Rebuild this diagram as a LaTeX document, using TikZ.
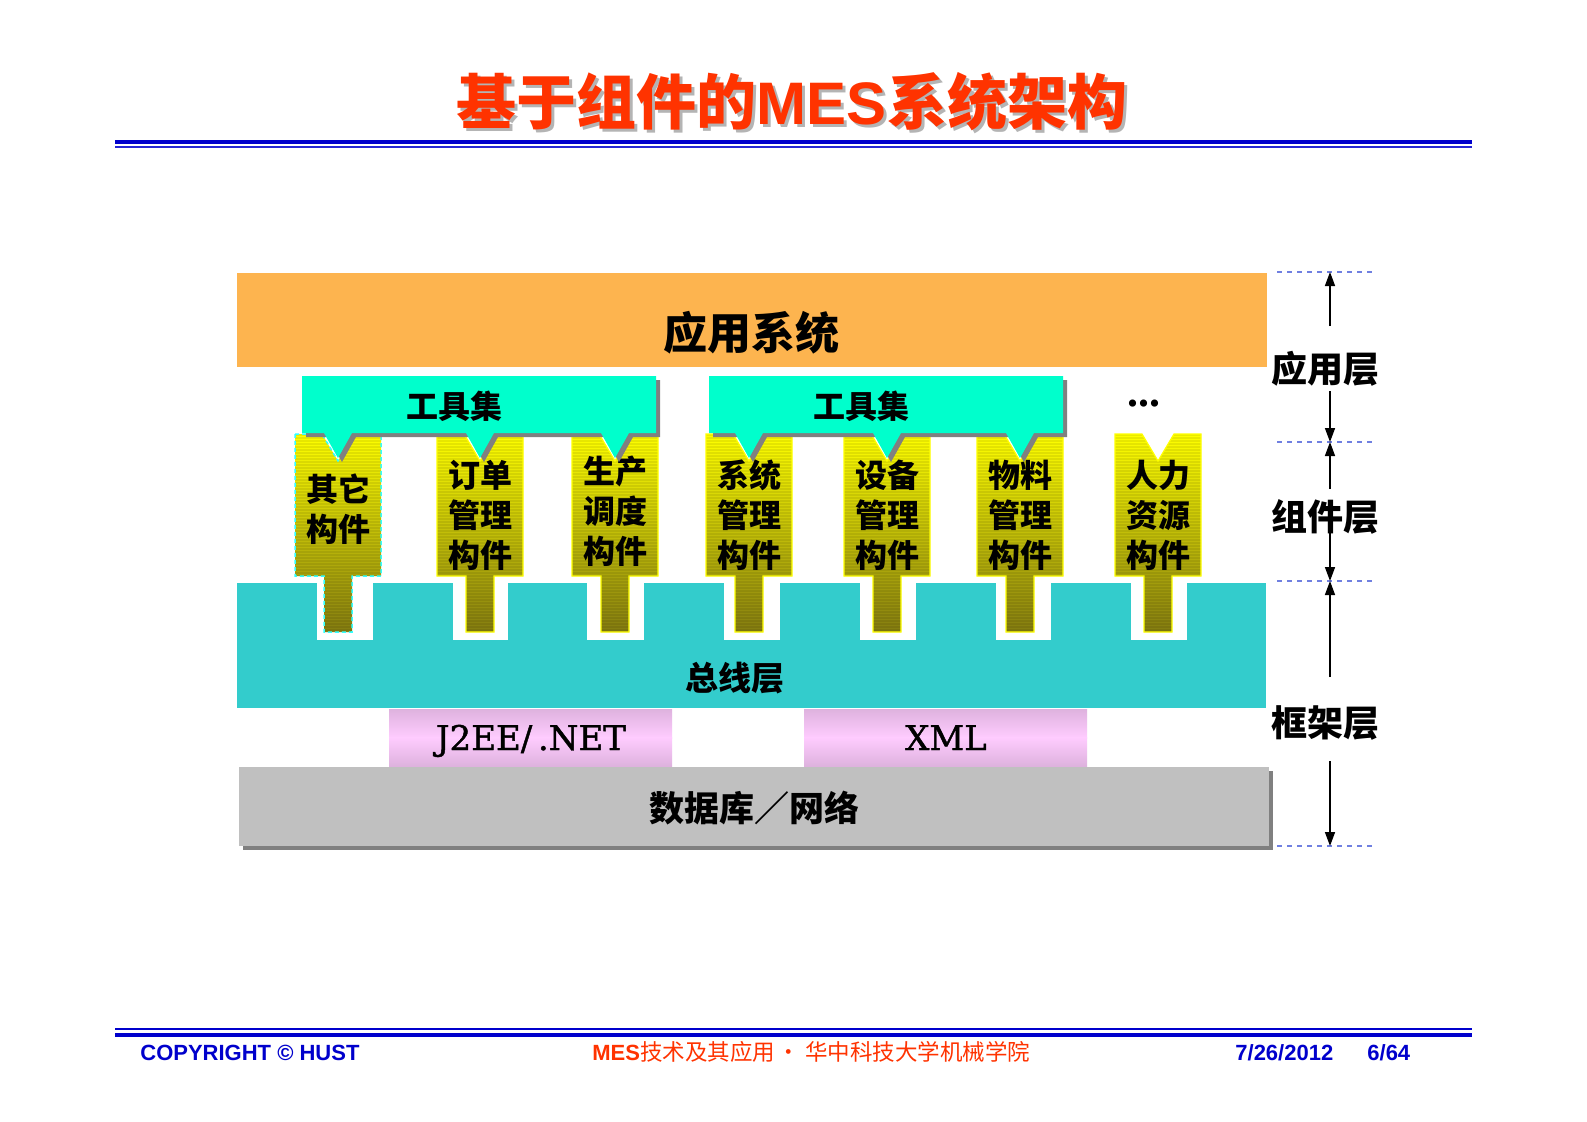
\documentclass[tikz,border=0pt]{standalone}
\usepackage{fontspec}
\setmainfont{Liberation Serif}
\newfontfamily\cjk{Noto Sans CJK SC}
\newfontfamily\arialf{Liberation Sans}
\newfontfamily\wideserif[FakeBold=1.2]{DejaVu Serif}
\usetikzlibrary{arrows.meta}
\definecolor{apporange}{HTML}{FDB44F}
\definecolor{busteal}{HTML}{33CCCC}
\definecolor{toolcyan}{HTML}{00FFCC}
\definecolor{shadowgray}{HTML}{808080}
\definecolor{dbgray}{HTML}{C0C0C0}
\definecolor{pinklight}{HTML}{FFCCFF}
\definecolor{pinkdark}{HTML}{DEB2DE}
\definecolor{ytop}{HTML}{FFFF00}
\definecolor{ymid}{HTML}{C8C01C}
\definecolor{ybot}{HTML}{847C10}
\definecolor{yedge}{HTML}{FFFF00}
\definecolor{selcyan}{HTML}{33FFFF}
\definecolor{dashblue}{HTML}{7080E0}
\definecolor{lineblue}{HTML}{0000CC}
\definecolor{titlered}{HTML}{FF3300}
\definecolor{titleshadow}{HTML}{B4B4B4}
\begin{document}
\begin{tikzpicture}[x=0.5pt,y=-0.5pt,
  comptext/.style={font=\cjk\bfseries\fontsize{16pt}{20pt}\selectfont, align=center, inner sep=0pt},
  compedge/.style={draw=yedge, line width=0.6pt},
  compsel/.style={draw=selcyan, line width=0.75pt, dash pattern=on 2pt off 1.5pt},
  stripe/.style={draw=black, opacity=0.08, line width=0.6pt},
  boxtext/.style={font=\cjk\bfseries\fontsize{16pt}{16pt}\selectfont, inner sep=0pt},
  layerlab/.style={font=\cjk\bfseries\fontsize{18pt}{18pt}\selectfont, inner sep=0pt},
  dashline/.style={draw=dashblue, line width=0.75pt, dash pattern=on 2.5pt off 2.5pt},
  arr/.style={draw=black, line width=0.75pt, -{Triangle[length=7pt,width=5pt]}},
  serifbox/.style={font=\wideserif\fontsize{17pt}{17pt}\selectfont, inner sep=0pt, anchor=base},
  pinkup/.style={top color=pinkdark, bottom color=pinklight},
  pinkdown/.style={top color=pinklight, bottom color=pinkdark},
  footblue/.style={text=lineblue, font=\arialf\bfseries\fontsize{11pt}{11pt}\selectfont, anchor=base west, inner sep=0pt},
  footred/.style={text=titlered, font=\fontsize{11.25pt}{11.25pt}\selectfont, inner sep=0pt}
]
\useasboundingbox (0,0) rectangle (1587,1121);
\fill[white] (0,0) rectangle (1587,1121);

% ---------- title ----------
\node[text=titleshadow, font=\fontsize{30pt}{30pt}\selectfont, inner sep=0pt] (titleshd) at (795,105)
  {{\cjk\bfseries 基于组件的}{\arialf\bfseries MES}{\cjk\bfseries 系统架构}};
\node[text=titlered, font=\fontsize{30pt}{30pt}\selectfont, inner sep=0pt] (title) at (792,102)
  {{\cjk\bfseries 基于组件的}{\arialf\bfseries MES}{\cjk\bfseries 系统架构}};
\draw[lineblue, line width=2pt] (115,142) -- (1472,142);
\draw[lineblue!85!white, line width=0.75pt] (115,147) -- (1472,147);

% ---------- application layer ----------
\fill[apporange] (237,273) rectangle (1267,367);
\node[font=\cjk\bfseries\fontsize{22pt}{22pt}\selectfont, inner sep=0pt] (appsys) at (751,333) {应用系统};

% ---------- bus layer ----------
\fill[busteal] (237,583) rectangle (1266,708);
\foreach \gl/\gr in {317/373,453/508,587/644,724/780,860/916,996/1051,1131/1187}
  \fill[white] (\gl,583) rectangle (\gr,640);
\node[font=\cjk\bfseries\fontsize{16.5pt}{16.5pt}\selectfont, inner sep=0pt] (bus) at (735,678) {总线层};

% ---------- components ----------
\foreach \cx/\lab/\ty/\es/\nm in {
  338/{其它\\构件}/509/compsel/c1,
  480/{订单\\管理\\构件}/515/compedge/c2,
  615/{生产\\调度\\构件}/511/compedge/c3,
  749/{系统\\管理\\构件}/515/compedge/c4,
  887/{设备\\管理\\构件}/515/compedge/c5,
  1020/{物料\\管理\\构件}/515/compedge/c6,
  1158/{人力\\资源\\构件}/515/compedge/c7}{
  \shade[top color=ytop, middle color=ymid, bottom color=ybot]
    (\cx-43,434) -- (\cx-16,434) -- (\cx,461) -- (\cx+16,434) -- (\cx+43,434) -- (\cx+43,576)
    -- (\cx+14,576) -- (\cx+14,632) -- (\cx-14,632) -- (\cx-14,576) -- (\cx-43,576) -- cycle;
  \begin{scope}
    \clip (\cx-43,434) -- (\cx-16,434) -- (\cx,461) -- (\cx+16,434) -- (\cx+43,434) -- (\cx+43,576)
      -- (\cx+14,576) -- (\cx+14,632) -- (\cx-14,632) -- (\cx-14,576) -- (\cx-43,576) -- cycle;
    \foreach \yy in {435,438,...,633}
      \draw[stripe] (\cx-44,\yy) -- (\cx+44,\yy);
  \end{scope}
  \draw[\es] (\cx-43,434) -- (\cx-16,434) -- (\cx,461) -- (\cx+16,434) -- (\cx+43,434) -- (\cx+43,576)
    -- (\cx+14,576) -- (\cx+14,632) -- (\cx-14,632) -- (\cx-14,576) -- (\cx-43,576) -- cycle;
  \node[comptext] (\nm) at (\cx,\ty) {\lab};
}

% ---------- tool sets ----------
\begin{scope}[shift={(4,4)}]
  \fill[shadowgray] (302,376) -- (656,376) -- (656,433) -- (629,433) -- (615,458) -- (601,433)
    -- (494,433) -- (480,458) -- (466,433) -- (352,433) -- (338,458) -- (324,433) -- (302,433) -- cycle;
  \fill[shadowgray] (709,376) -- (1063,376) -- (1063,433) -- (1034,433) -- (1020,458) -- (1006,433)
    -- (901,433) -- (887,458) -- (873,433) -- (763,433) -- (749,458) -- (735,433) -- (709,433) -- cycle;
\end{scope}
\fill[toolcyan] (302,376) -- (656,376) -- (656,433) -- (629,433) -- (615,458) -- (601,433)
  -- (494,433) -- (480,458) -- (466,433) -- (352,433) -- (338,458) -- (324,433) -- (302,433) -- cycle;
\fill[toolcyan] (709,376) -- (1063,376) -- (1063,433) -- (1034,433) -- (1020,458) -- (1006,433)
  -- (901,433) -- (887,458) -- (873,433) -- (763,433) -- (749,458) -- (735,433) -- (709,433) -- cycle;
\node[boxtext] (ts1) at (454,406) {工具集};
\node[boxtext] (ts2) at (861,406) {工具集};
\node[font=\bfseries\fontsize{22pt}{22pt}\selectfont, inner sep=0pt, anchor=base] (dots) at (1144,406) {...};

% ---------- framework ----------
\shade[pinkup] (389,709) rectangle (672,738);
\shade[pinkdown] (389,737) rectangle (672,766);
\shade[pinkup] (804,709) rectangle (1087,738);
\shade[pinkdown] (804,737) rectangle (1087,766);
\node[serifbox] (j2ee) at (531,750) {J2EE/\,.NET};
\node[serifbox] (xml) at (946,750) {XML};
\fill[shadowgray] (243,771) rectangle (1273,850);
\fill[dbgray] (239,767) rectangle (1269,846);
\node[font=\cjk\bfseries\fontsize{17.5pt}{17.5pt}\selectfont, inner sep=0pt] (db) at (754,808) {数据库／网络};

% ---------- layer markers ----------
\coordinate (d1w) at (1277,272); \coordinate (d1e) at (1372,272);
\coordinate (d2w) at (1277,442); \coordinate (d2e) at (1372,442);
\coordinate (d3w) at (1277,581); \coordinate (d3e) at (1372,581);
\coordinate (d4w) at (1277,846); \coordinate (d4e) at (1372,846);
\draw[dashline] (d1w) -- (d1e);
\draw[dashline] (d2w) -- (d2e);
\draw[dashline] (d3w) -- (d3e);
\draw[dashline] (d4w) -- (d4e);
\node[layerlab] (lay1) at (1325,369) {应用层};
\node[layerlab] (lay2) at (1325,517) {组件层};
\node[layerlab] (lay3) at (1325,723) {框架层};
\coordinate (t1) at (1330,272);
\coordinate (t2) at (1330,442);
\coordinate (t3) at (1330,581);
\coordinate (t4) at (1330,846);
\coordinate (a1) at (1330,326);
\coordinate (a2) at (1330,391);
\coordinate (a3) at (1330,489);
\coordinate (a4) at (1330,530);
\coordinate (a5) at (1330,677);
\coordinate (a6) at (1330,761);
\draw[arr] (a1) -- (t1);
\draw[arr] (a2) -- (t2);
\draw[arr] (a3) -- (t2);
\draw[arr] (a4) -- (t3);
\draw[arr] (a5) -- (t3);
\draw[arr] (a6) -- (t4);

% ---------- footer ----------
\draw[lineblue, line width=1pt] (115,1029) -- (1472,1029);
\draw[lineblue, line width=1.75pt] (115,1035) -- (1472,1035);
\node[footblue] (copy) at (140,1060) {COPYRIGHT © HUST};
\node[footred, anchor=base west] (course) at (592,1060) {{\arialf\bfseries\fontsize{11pt}{11pt}\selectfont MES}{\cjk 技术及其应用}};
\node[footred, anchor=base] (mdot) at (789,1060) {\cjk ·};
\node[footred, anchor=base west] (school) at (805,1060) {\cjk 华中科技大学机械学院};
\node[footblue] (date) at (1235,1060) {7/26/2012};
\node[footblue] (page) at (1367,1060) {6/64};
\end{tikzpicture}
\end{document}
